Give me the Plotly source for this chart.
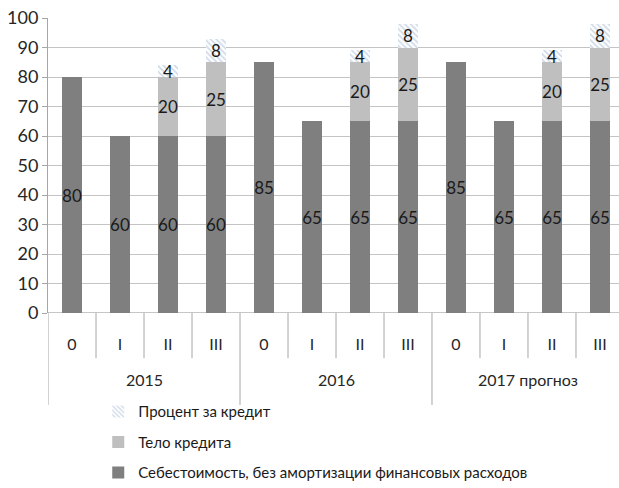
import plotly.graph_objects as go

# Categories: quarter index within each year group
years = ["2015", "2016", "2017 прогноз"]
quarters = ["0", "I", "II", "III"]

# Series values (12 bars: 4 quarters x 3 years)
cost = [80, 60, 60, 60, 85, 65, 65, 65, 85, 65, 65, 65]
loan_body = [0, 0, 20, 25, 0, 0, 20, 25, 0, 0, 20, 25]
loan_interest = [0, 0, 4, 8, 0, 0, 4, 8, 0, 0, 4, 8]

series_names = [
    "Себестоимость, без амортизации финансовых расходов",
    "Тело кредита",
    "Процент за кредит",
]

FONT = "Lato, Open Sans, sans-serif"
n = len(cost)
xs = list(range(n))
tick_text = quarters * len(years)


def labels(vals):
    return [str(v) if v else "" for v in vals]


def nz(vals):
    return [v if v else None for v in vals]


fig = go.Figure()
fig.add_bar(
    x=xs, y=cost, name=series_names[0], legendrank=3, legendgroup="cost",
    marker=dict(color="#7f7f7f", line=dict(width=0)),
    text=labels(cost),
)
fig.add_bar(
    x=xs, y=nz(loan_body), name=series_names[1], legendrank=2, legendgroup="body",
    marker=dict(color="#bfbfbf", line=dict(width=0)),
    text=labels(loan_body),
)
fig.add_bar(
    x=xs, y=nz(loan_interest), name=series_names[2], legendrank=1,
    legendgroup="interest",
    marker=dict(
        color="white", line=dict(width=0),
        pattern=dict(shape="\\", fgcolor="#9fb5d0", bgcolor="#ffffff",
                     size=4, solidity=0.45),
    ),
    text=labels(loan_interest),
)
fig.update_traces(
    textposition="inside", insidetextanchor="middle", textangle=0,
    constraintext="none", cliponaxis=False,
    textfont=dict(family=FONT, size=17, color="#1a1a1a"),
)

# Separators under the category axis: short ones between quarters,
# long ones between year groups
shapes = []
for k in range(n + 1):
    b = k - 0.5
    long_line = k % 4 == 0
    shapes.append(dict(
        type="line", xref="x", yref="paper", x0=b, x1=b, y0=0,
        y1=-0.312 if long_line else -0.153,
        line=dict(color="#a6a6a6", width=1), layer="below",
    ))

annotations = []
for gi, yr in enumerate(years):
    annotations.append(dict(
        x=gi * 4 + 1.5, y=-0.227, xref="x", yref="paper", text=yr,
        showarrow=False, yanchor="middle",
        font=dict(family=FONT, size=16, color="#262626"),
    ))

fig.update_layout(
    width=619, height=488,
    margin=dict(l=48, r=0, t=18, b=175, autoexpand=False),
    paper_bgcolor="white", plot_bgcolor="white",
    barmode="stack", bargap=0.6,
    font=dict(family=FONT, color="#262626"),
    shapes=shapes, annotations=annotations,
    legend=dict(
        x=0.088, y=0.19, xref="paper", yref="container",
        xanchor="left", yanchor="top",
        traceorder="grouped", tracegroupgap=8,
        font=dict(family=FONT, size=15, color="#1a1a1a"),
        itemwidth=30, bgcolor="rgba(0,0,0,0)",
    ),
    xaxis=dict(
        range=[-0.5, 11.396], tickvals=xs, ticktext=tick_text,
        showgrid=False, zeroline=False, showline=False, ticks="",
        ticklabelstandoff=20,
        tickfont=dict(family=FONT, size=16, color="#262626"),
    ),
    yaxis=dict(
        range=[0, 100], dtick=10, showgrid=True, gridcolor="#c4c4c4",
        gridwidth=1, zeroline=False, showline=True, linecolor="#a6a6a6",
        ticks="outside", ticklen=5, tickcolor="#a6a6a6",
        tickfont=dict(family=FONT, size=18, color="#262626"),
    ),
)
# Baseline at zero spanning the plot width
fig.add_hline(y=0, line=dict(color="#8c8c8c", width=1), layer="below")

fig.write_html("out.html")
